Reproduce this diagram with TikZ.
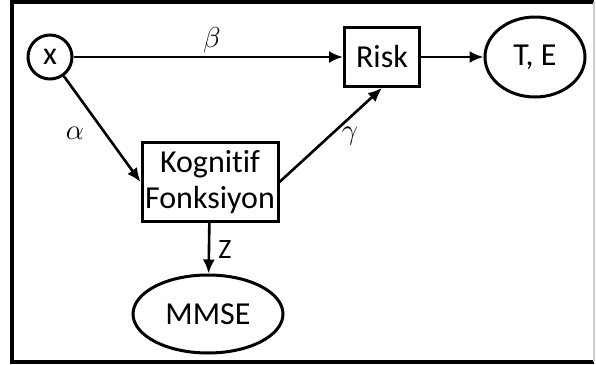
\documentclass[tikz,border=0pt]{standalone}
\usepackage{fontspec}
\setmainfont{Carlito}[Ligatures=NoCommon]
\usepackage{tikz}
\usetikzlibrary{positioning, calc, shapes.geometric, arrows.meta}

\begin{document}
\begin{tikzpicture}[x=0.5pt, y=-0.5pt,
      every node/.style={font=\fontsize{16}{17}\selectfont},
      varnode/.style={circle, draw, line width=1.5pt, minimum size=22pt, inner sep=0pt},
      boxnode/.style={rectangle, draw, line width=1.5pt, inner sep=0pt, align=center},
      outnode/.style={ellipse, draw, line width=1.5pt, inner sep=0pt},
      arrow/.style={-{Latex[length=7pt, width=6pt]}, line width=1.3pt},
      coef/.style={font=\fontsize{14}{16}\selectfont}
    ]
      \useasboundingbox (0,0) rectangle (596,365);
      % frame
      \draw[line width=1.6pt] (594,362) -- (12,362) -- (12,2) -- (594,2);
      \draw[line width=0.6pt, gray!40] (594,2) -- (594,362);

      \node[varnode] (X) at (50,57) {x};
      \node[boxnode, minimum width=37.5pt, minimum height=29.5pt] (R) at (382,57) {Risk};
      \node[outnode, minimum width=50pt, minimum height=40pt] (TE) at (535,57) {T, E};
      \node[boxnode, minimum width=68pt, minimum height=39.5pt] (K) at (210,182) {Kognitif\\[1pt]Fonksiyon};
      \node[outnode, minimum width=75pt, minimum height=39pt] (M) at (208,314) {MMSE};

      \draw[arrow] (X) -- (R);
      \draw[arrow] (R) -- (TE);
      \draw[arrow] (X) -- (K.west);
      \draw[arrow] (K.east) -- (R.south);
      \draw[arrow] (K) -- (M);

      \node[coef] (beta) at (212,40) {$\beta$};
      \node[coef] (alpha) at (75,133) {$\alpha$};
      \node[coef] (gamma) at (350,136) {$\gamma$};
      \node[coef] (z) at (225,250) {Z};
    \end{tikzpicture}
\end{document}
